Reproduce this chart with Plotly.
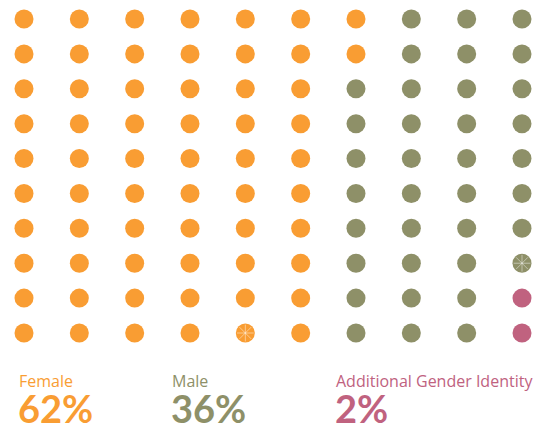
import plotly.graph_objects as go

# Data
categories = ["Female", "Male", "Additional Gender Identity"]
percentages = [62, 36, 2]
colors = ["#F99D33", "#8E9068", "#C0627F"]
n_cols = 10
n_rows = 10
# highlighted dots (column, row) drawn with a radiating star pattern
highlight_cells = [(4, 9), (9, 7)]

# Build grid (column-major fill)
xs, ys, cs = [], [], []
cat_idx = []
for ci, p in enumerate(percentages):
    cat_idx += [ci] * p
for k, ci in enumerate(cat_idx):
    col = k // n_rows
    row = k % n_rows
    xs.append(col)
    ys.append(row)
    cs.append(colors[ci])

fig = go.Figure()
fig.add_trace(go.Scatter(
    x=xs, y=ys, mode="markers",
    marker=dict(size=19, color=cs, line=dict(width=0)),
    hoverinfo="skip", showlegend=False))
fig.add_trace(go.Scatter(
    x=[c for c, r in highlight_cells], y=[r for c, r in highlight_cells],
    mode="markers",
    marker=dict(size=14, symbol="asterisk-open", color="rgba(255,255,255,0.45)",
                line=dict(width=1, color="rgba(255,255,255,0.45)")),
    hoverinfo="skip", showlegend=False))

label_x = [17, 170, 334]
for i, cat in enumerate(categories):
    fig.add_annotation(x=label_x[i] / 551, y=1 - 381 / 430, xref="paper", yref="paper",
                       text=cat, showarrow=False, xanchor="left", yanchor="middle",
                       font=dict(family="Open Sans", size=16, color=colors[i]))
    fig.add_annotation(x=(label_x[i] - 1) / 551, y=1 - 408 / 430, xref="paper", yref="paper",
                       text=f"{percentages[i]}%", showarrow=False, xanchor="left", yanchor="middle",
                       font=dict(family="Lato", size=38, color=colors[i], weight="bold"))

fig.update_layout(
    width=551, height=430,
    margin=dict(l=0, r=0, t=0, b=0),
    paper_bgcolor="white", plot_bgcolor="white",
    xaxis=dict(range=[-0.4337, 9.524], visible=False, fixedrange=True),
    yaxis=dict(range=[11.78, -0.5446], visible=False, fixedrange=True),
)
fig.write_html("out.html", config={"displayModeBar": False})

with open("out.html", "r", encoding="utf-8") as f:
    html = f.read()
html = html.replace("<head>", "<head><style>html,body{margin:0;padding:0;overflow:hidden}</style>", 1)
with open("out.html", "w", encoding="utf-8") as f:
    f.write(html)
